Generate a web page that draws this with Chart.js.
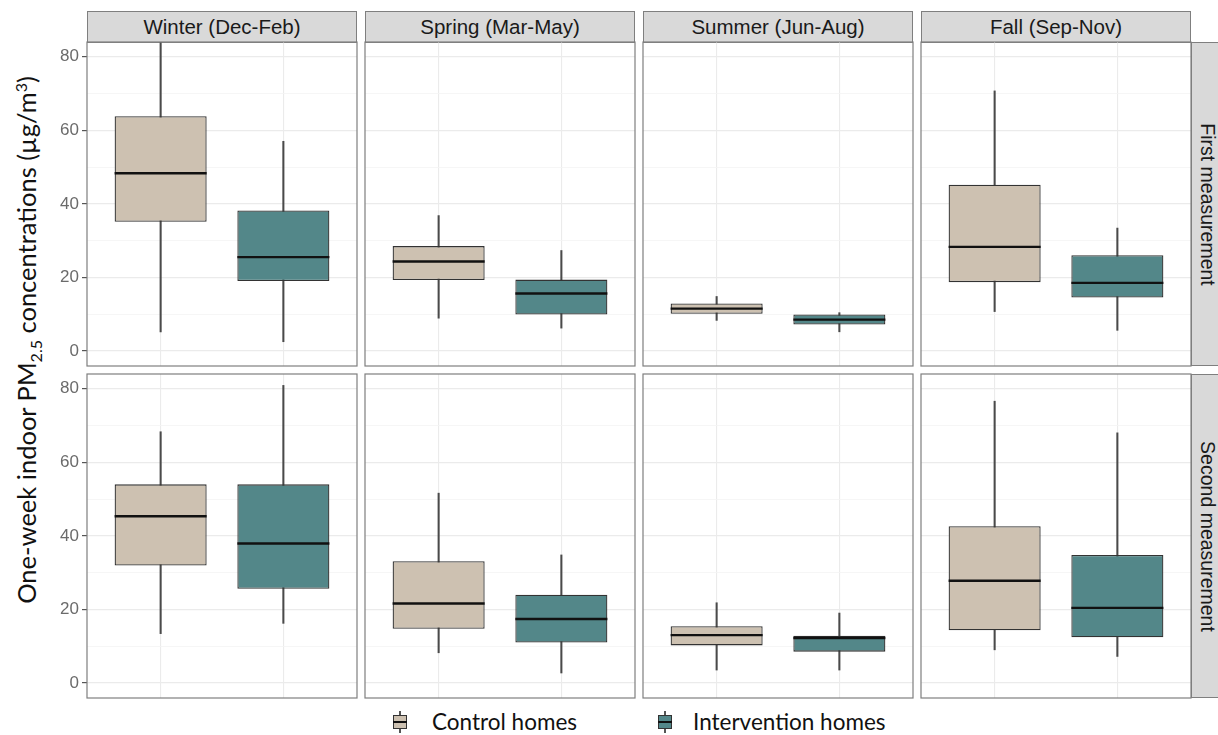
<!DOCTYPE html>
<html>
<head>
<meta charset="utf-8">
<script src="https://cdn.jsdelivr.net/npm/chart.js@4.4.1/dist/chart.umd.min.js"></script>
<style>
  body { margin: 0; background: #fff; }
  #page { position: relative; width: 1218px; height: 735px; overflow: hidden; font-family: "Liberation Sans", Arial, sans-serif; }
  .panel { position: absolute; }
  .strip {
    position: absolute; box-sizing: border-box;
    background: #d9d9d9; border: 1.2px solid #7f7f7f;
    display: flex; align-items: center; justify-content: center;
    font-size: 20.5px; color: #1a1a1a; white-space: nowrap;
  }
  .strip.side { font-size: 19.5px; }
  .strip.side span { transform: rotate(90deg); }
  #ytitle {
    position: absolute; left: 28px; top: 340px;
    transform: translate(-50%, -50%) rotate(-90deg);
    font-family: Lato, "Open Sans", sans-serif; font-size: 25.5px; color: #111; white-space: nowrap;
  }
  #ytitle sub, #ytitle sup { font-size: 16px; }
  #legend {
    position: absolute; left: 0; top: 708px; width: 1218px; height: 27px;
    font-family: Lato, "Open Sans", sans-serif; font-size: 22.5px; color: #111;
  }
  .key { position: absolute; top: 0; height: 27px; }
  .key span { position: absolute; top: 0; line-height: 27px; white-space: nowrap; }
  .glyph { position: absolute; top: 3px; width: 14px; height: 22px; }
  .glyph .stem { position: absolute; left: 6.3px; top: 0; width: 1.4px; height: 22px; background: #555; }
  .glyph .box { position: absolute; left: 0; top: 4px; width: 14px; height: 14px; box-sizing: border-box; border: 1.3px solid #333; }
  .glyph .mid { position: absolute; left: 0; top: 10.2px; width: 14px; height: 1.6px; background: #111; }
</style>
</head>
<body>
<div id="page">
  <div id="ytitle">One-week indoor PM<sub>2.5</sub> concentrations (µg/m<sup>3</sup>)</div>
  <div id="legend"></div>
</div>
<script>
const SEASONS = ["Winter (Dec-Feb)", "Spring (Mar-May)", "Summer (Jun-Aug)", "Fall (Sep-Nov)"];
const MEASUREMENTS = ["First measurement", "Second measurement"];
const GROUPS = ["Control homes", "Intervention homes"];
const Y_MAJOR = [0, 20, 40, 60, 80];
const Y_MINOR = [10, 30, 50, 70];

// [lower whisker, Q1, median, Q3, upper whisker] per season
const CONTROL_FIRST = [
  [5.2, 35.1, 48.3, 63.8, 84.0],
  [8.9, 19.3, 24.3, 28.5, 36.8],
  [8.3, 10.1, 11.5, 12.9, 14.8],
  [10.7, 18.7, 28.3, 45.2, 70.7]
];
const INTERVENTION_FIRST = [
  [2.5, 19.0, 25.5, 38.2, 57.0],
  [6.2, 9.9, 15.6, 19.4, 27.3],
  [5.2, 7.2, 8.5, 9.9, 10.4],
  [5.6, 14.5, 18.5, 26.0, 33.4]
];
const CONTROL_SECOND = [
  [13.4, 31.9, 45.3, 54.0, 68.3],
  [8.2, 14.7, 21.6, 33.1, 51.6],
  [3.5, 10.2, 13.0, 15.4, 21.8],
  [9.0, 14.3, 27.8, 42.6, 76.6]
];
const INTERVENTION_SECOND = [
  [16.2, 25.6, 37.9, 54.0, 80.9],
  [2.7, 11.0, 17.4, 24.0, 34.8],
  [3.5, 8.5, 12.2, 12.8, 19.0],
  [7.2, 12.4, 20.4, 34.8, 68.0]
];

const FILLS = ["#cdc1b1", "#538789"];

// facet geometry
const PANEL_LEFT = [87, 365, 643, 921];
const PANEL_W = 270;
const ROW_TOP = [42, 374];
const PANEL_H = 324;
const AXIS_W = 47;

// median segment + panel frame
const boxExtras = {
  id: "boxExtras",
  afterDatasetsDraw(chart) {
    const ctx = chart.ctx;
    const y = chart.scales.y;
    const ds = chart.data.datasets[1];
    const meta = chart.getDatasetMeta(1);
    ctx.save();
    ctx.strokeStyle = "#111";
    ctx.lineWidth = 2.4;
    meta.data.forEach((bar, i) => {
      const { x, width } = bar.getProps(["x", "width"], true);
      const py = y.getPixelForValue(ds.medians[i]);
      ctx.beginPath();
      ctx.moveTo(x - width / 2, py);
      ctx.lineTo(x + width / 2, py);
      ctx.stroke();
    });
    ctx.restore();
  },
  afterDraw(chart) {
    const { left, top, width, height } = chart.chartArea;
    const ctx = chart.ctx;
    ctx.save();
    ctx.strokeStyle = "#7f7f7f";
    ctx.lineWidth = 1.2;
    ctx.strokeRect(left, top, width, height);
    ctx.restore();
  }
};

function makePanel(row, col, ctrl, intv) {
  const first = col === 0;
  const axisW = first ? AXIS_W : 0;
  const div = document.createElement("div");
  div.className = "panel";
  div.style.left = (PANEL_LEFT[col] - axisW - 1) + "px";
  div.style.top = (ROW_TOP[row] - 1) + "px";
  div.style.width = (PANEL_W + axisW + 2) + "px";
  div.style.height = (PANEL_H + 2) + "px";
  const canvas = document.createElement("canvas");
  div.appendChild(canvas);
  document.getElementById("page").appendChild(div);

  new Chart(canvas, {
    type: "bar",
    data: {
      datasets: [
        {
          label: "whiskers",
          data: [{ x: 1, y: [ctrl[0], ctrl[4]] }, { x: 2, y: [intv[0], intv[4]] }],
          backgroundColor: "#4a4a4a",
          barThickness: 1.4,
          grouped: false,
          order: 3
        },
        {
          label: "boxes",
          data: [{ x: 1, y: [ctrl[1], ctrl[3]] }, { x: 2, y: [intv[1], intv[3]] }],
          medians: [ctrl[2], intv[2]],
          backgroundColor: FILLS,
          borderColor: "#333",
          borderWidth: 1.3,
          borderSkipped: false,
          grouped: false,
          categoryPercentage: 0.75,
          barPercentage: 1,
          order: 2
        }
      ]
    },
    options: {
      responsive: true,
      maintainAspectRatio: false,
      animation: false,
      layout: { padding: { left: 1, right: 1, top: 1, bottom: 1 } },
      plugins: { legend: { display: false }, tooltip: { enabled: false } },
      scales: {
        x: {
          type: "linear",
          offset: false,
          min: 0.4,
          max: 2.6,
          afterBuildTicks: (s) => { s.ticks = [{ value: 1 }, { value: 2 }]; },
          afterFit: (s) => { s.height = 0; s.paddingLeft = 0; s.paddingRight = 0; },
          ticks: { display: false },
          grid: { offset: false, color: "#ebebeb", lineWidth: 1.1, drawTicks: false },
          border: { display: false }
        },
        y: {
          min: -4.1,
          max: 84,
          afterBuildTicks: (s) => {
            s.ticks = Y_MAJOR.concat(Y_MINOR).sort((a, b) => a - b).map((v) => ({ value: v }));
          },
          afterFit: (s) => { s.width = axisW; s.paddingTop = 0; s.paddingBottom = 0; },
          ticks: {
            display: first,
            color: "#6b6b6b",
            padding: 3,
            font: { family: "Liberation Sans", size: 17 },
            callback: (v) => (Y_MAJOR.includes(v) ? String(v) : "")
          },
          grid: {
            drawTicks: first,
            tickLength: 5,
            color: (c) => (Y_MAJOR.includes(c.tick.value) ? "#ebebeb" : "#f4f4f4"),
            lineWidth: (c) => (Y_MAJOR.includes(c.tick.value) ? 1.2 : 0.8),
            tickColor: (c) => (Y_MAJOR.includes(c.tick.value) ? "#555" : "rgba(0,0,0,0)")
          },
          border: { display: false }
        }
      }
    },
    plugins: [boxExtras]
  });
}

const page = document.getElementById("page");

SEASONS.forEach((name, col) => {
  const s = document.createElement("div");
  s.className = "strip";
  s.style.left = PANEL_LEFT[col] + "px";
  s.style.top = "11px";
  s.style.width = PANEL_W + "px";
  s.style.height = (ROW_TOP[0] - 11 + 1) + "px";
  s.textContent = name;
  page.appendChild(s);
});

MEASUREMENTS.forEach((name, row) => {
  const s = document.createElement("div");
  s.className = "strip side";
  s.style.left = (PANEL_LEFT[3] + PANEL_W) + "px";
  s.style.top = ROW_TOP[row] + "px";
  s.style.width = "32px";
  s.style.height = PANEL_H + "px";
  const span = document.createElement("span");
  span.textContent = name;
  s.appendChild(span);
  page.appendChild(s);
});

for (let col = 0; col < 4; col++) {
  makePanel(0, col, CONTROL_FIRST[col], INTERVENTION_FIRST[col]);
  makePanel(1, col, CONTROL_SECOND[col], INTERVENTION_SECOND[col]);
}

// legend
const LEGEND_GLYPH_X = [393, 658];
const LEGEND_TEXT_X = [432, 693];
const legend = document.getElementById("legend");
GROUPS.forEach((g, i) => {
  const k = document.createElement("div");
  k.className = "key";
  k.innerHTML = '<div class="glyph" style="left:' + LEGEND_GLYPH_X[i] + 'px"><div class="stem"></div><div class="box" style="background:' +
    FILLS[i] + '"></div><div class="mid"></div></div><span style="left:' + LEGEND_TEXT_X[i] + 'px">' + g + "</span>";
  legend.appendChild(k);
});
</script>
</body>
</html>
